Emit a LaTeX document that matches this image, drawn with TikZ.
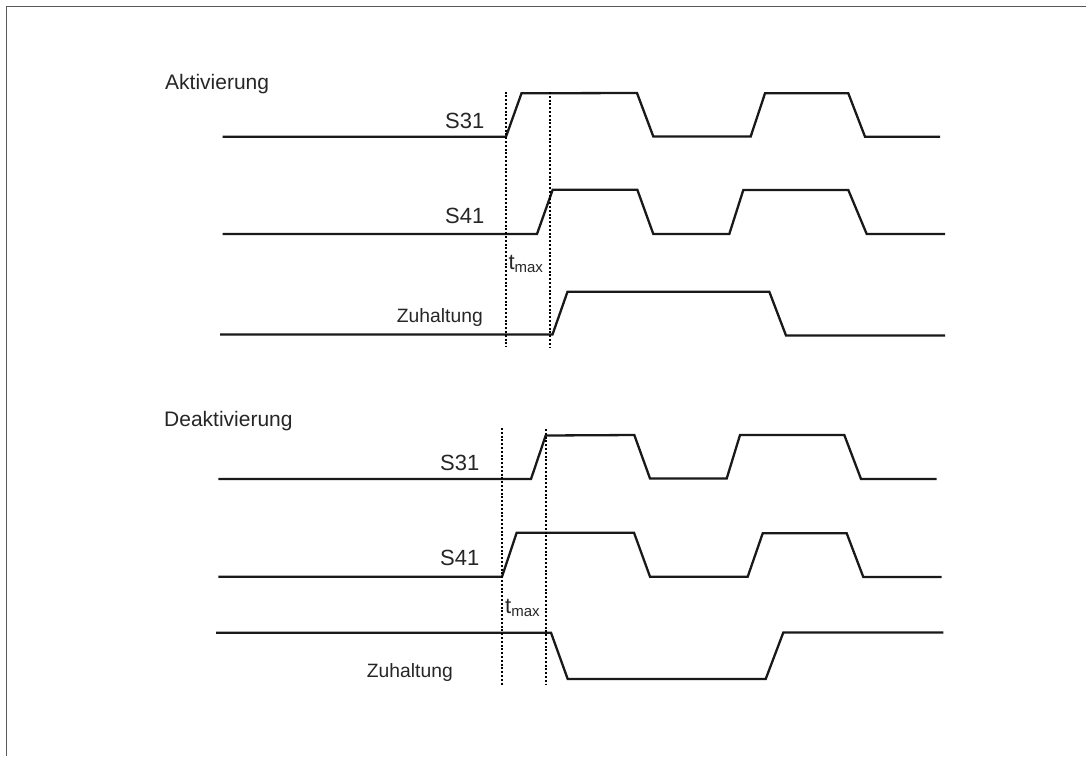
\documentclass[tikz,border=0pt]{standalone}
\usepackage{fontspec}
\setmainfont{Liberation Sans}
\begin{document}
\begin{tikzpicture}[x=1pt,y=-1pt,
  wave/.style={line width=2.3pt, line join=miter, draw=black!90},
  tdot/.style={line width=2pt, dash pattern=on 2pt off 1.8pt, draw=black},
  lbl/.style={inner sep=0pt, anchor=base west, text=black!85},
  frameline/.style={line width=1.5pt, draw=black!65}]
\useasboundingbox (0,0) rectangle (1086,756);
\draw[frameline] (6.5,756) -- (6.5,6.5) -- (1086,6.5);

% ---------- Aktivierung ----------
\node[lbl] (titleA) at (165,89.3) {\fontsize{21}{25}\selectfont Aktivierung};
\node[lbl] (s31A) at (445,128.3) {\fontsize{22}{26}\selectfont S31};
\node[lbl] (s41A) at (445,223.3) {\fontsize{22}{26}\selectfont S41};
\node[lbl] (zuhA) at (396.7,322.7) {\fontsize{19.3}{23}\selectfont Zuhaltung};
\node[lbl] (tmaxA) at (508.3,269) {\fontsize{22}{26}\selectfont t\raisebox{-3pt}{\fontsize{15}{18}\selectfont max}};

\draw[wave] (222.7,136.7) -- (506,136.7) -- (521.5,93.3) -- (637,93) -- (653.3,136.5)
  -- (750.7,136.5) -- (765,93.3) -- (848.3,93.3) -- (865,136.7) -- (940,136.7);
\draw[wave] (222.7,234) -- (537,234) -- (552.7,189.7) -- (637.3,189.7) -- (653.3,234)
  -- (729.3,234) -- (743.3,190) -- (848.3,190) -- (866.7,234) -- (945,234);
\draw[wave] (220,334.5) -- (552.5,334.5) -- (567.5,291.7) -- (769.3,291.7) -- (786,335.5) -- (945,335.5);

\draw[tdot] (506,91.5) -- (506,347);
\draw[tdot] (550,92) -- (550,347);

% ---------- Deaktivierung ----------
\node[lbl] (titleD) at (164,426.7) {\fontsize{21}{25}\selectfont Deaktivierung};
\node[lbl] (s31D) at (440,470) {\fontsize{22}{26}\selectfont S31};
\node[lbl] (s41D) at (440,565) {\fontsize{22}{26}\selectfont S41};
\node[lbl] (zuhD) at (366.7,677.7) {\fontsize{19.3}{23}\selectfont Zuhaltung};
\node[lbl] (tmaxD) at (505,613.3) {\fontsize{22}{26}\selectfont t\raisebox{-3pt}{\fontsize{15}{18}\selectfont max}};

\draw[wave] (218.3,479) -- (531,479) -- (545.7,435.5) -- (634.3,435) -- (650,478.5)
  -- (726.7,478.5) -- (740,435) -- (844.3,435) -- (861,479) -- (936.7,479);
\draw[wave] (218.3,576.7) -- (502,576.7) -- (516.7,532.7) -- (634,532.7) -- (650,576.7)
  -- (747.7,576.7) -- (762.7,533.3) -- (846.7,533.3) -- (863.3,577) -- (941.7,577);
\draw[wave] (216,632.7) -- (551,632.7) -- (567.7,679) -- (765.7,679) -- (783.3,632.5) -- (943.3,632.5);

\draw[tdot] (502.3,428) -- (502.3,684.5);
\draw[tdot] (546,429) -- (546,684.5);
\end{tikzpicture}
\end{document}
